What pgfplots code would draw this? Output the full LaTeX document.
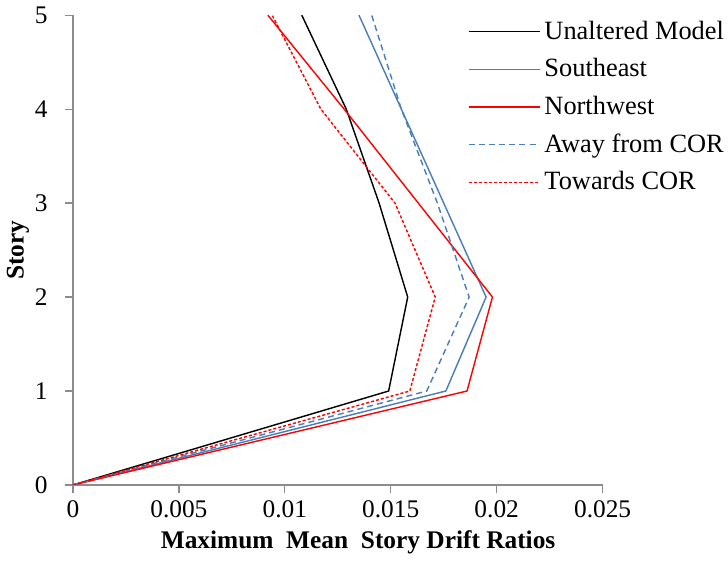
\documentclass[border=0pt]{standalone}
\usepackage{pgfplots}
\pgfplotsset{compat=1.18}
\usepackage{fontspec}
\setmainfont{Liberation Serif}
\definecolor{exblue}{HTML}{4A7EBB}
\definecolor{axgray}{HTML}{8C8C8C}
\begin{document}
\begin{tikzpicture}
\begin{axis}[
  width=261pt, height=231.5pt, scale only axis,
  xmin=0, xmax=0.025, ymin=0, ymax=5,
  axis x line*=bottom, axis y line*=left,
  axis line style={axgray, line width=0.6pt},
  tick style={axgray, line width=0.6pt},
  tick align=outside, major tick length=4pt,
  xtick={0,0.005,0.01,0.015,0.02,0.025},
  xticklabels={0,0.005,0.01,0.015,0.02,0.025},
  ytick={0,1,2,3,4,5},
  scaled x ticks=false,
  /pgf/number format/assume math mode=true,
  tick label style={font=\fontsize{12.5}{15}\selectfont},
  xticklabel style={yshift=0pt},
  yticklabel style={xshift=-5pt},
  xlabel={\textbf{Maximum\ \ Mean\ \ Story Drift Ratios}},
  ylabel={\textbf{Story}},
  label style={font=\fontsize{12.5}{15}\selectfont},
  xlabel style={xshift=10pt, yshift=0.5pt},
  ylabel style={yshift=-4pt},
  legend style={draw=none, fill=none, at={(0.745,0.997)}, anchor=north west,
    font=\fontsize{13}{15}\selectfont, row sep=4pt, inner sep=0pt},
  legend cell align=left,
  legend image code/.code={\draw[mark repeat=2,mark phase=2,#1] plot coordinates {(0pt,0pt) (17.5pt,0pt) (35pt,0pt)};},
]
\addplot[color=black, line width=0.7pt] coordinates {(0,0) (0.0149,1) (0.0158,2) (0.01445,3) (0.0129,4) (0.0108,5)};
\addlegendentry{Unaltered Model}
\addplot[color=exblue, line width=0.7pt] coordinates {(0,0) (0.0176,1) (0.0195,2) (0.0175,3) (0.0155,4) (0.0135,5)};
\addlegendentry{Southeast}
\addplot[color=red, line width=0.7pt] coordinates {(0,0) (0.0186,1) (0.0198,2) (0.0163,3) (0.0128,4) (0.0092,5)};
\addlegendentry{Northwest}
\addplot[color=exblue, line width=0.7pt, dash pattern=on 3pt off 2pt] coordinates {(0,0) (0.0167,1) (0.0187,2) (0.0172,3) (0.0155,4) (0.0141,5)};
\addlegendentry{Away from COR}
\addplot[color=red, line width=0.7pt, dash pattern=on 1.5pt off 1pt] coordinates {(0,0) (0.0159,1) (0.0171,2) (0.0152,3) (0.0117,4) (0.0094,5)};
\addlegendentry{Towards COR}
\end{axis}
\end{tikzpicture}
\end{document}
